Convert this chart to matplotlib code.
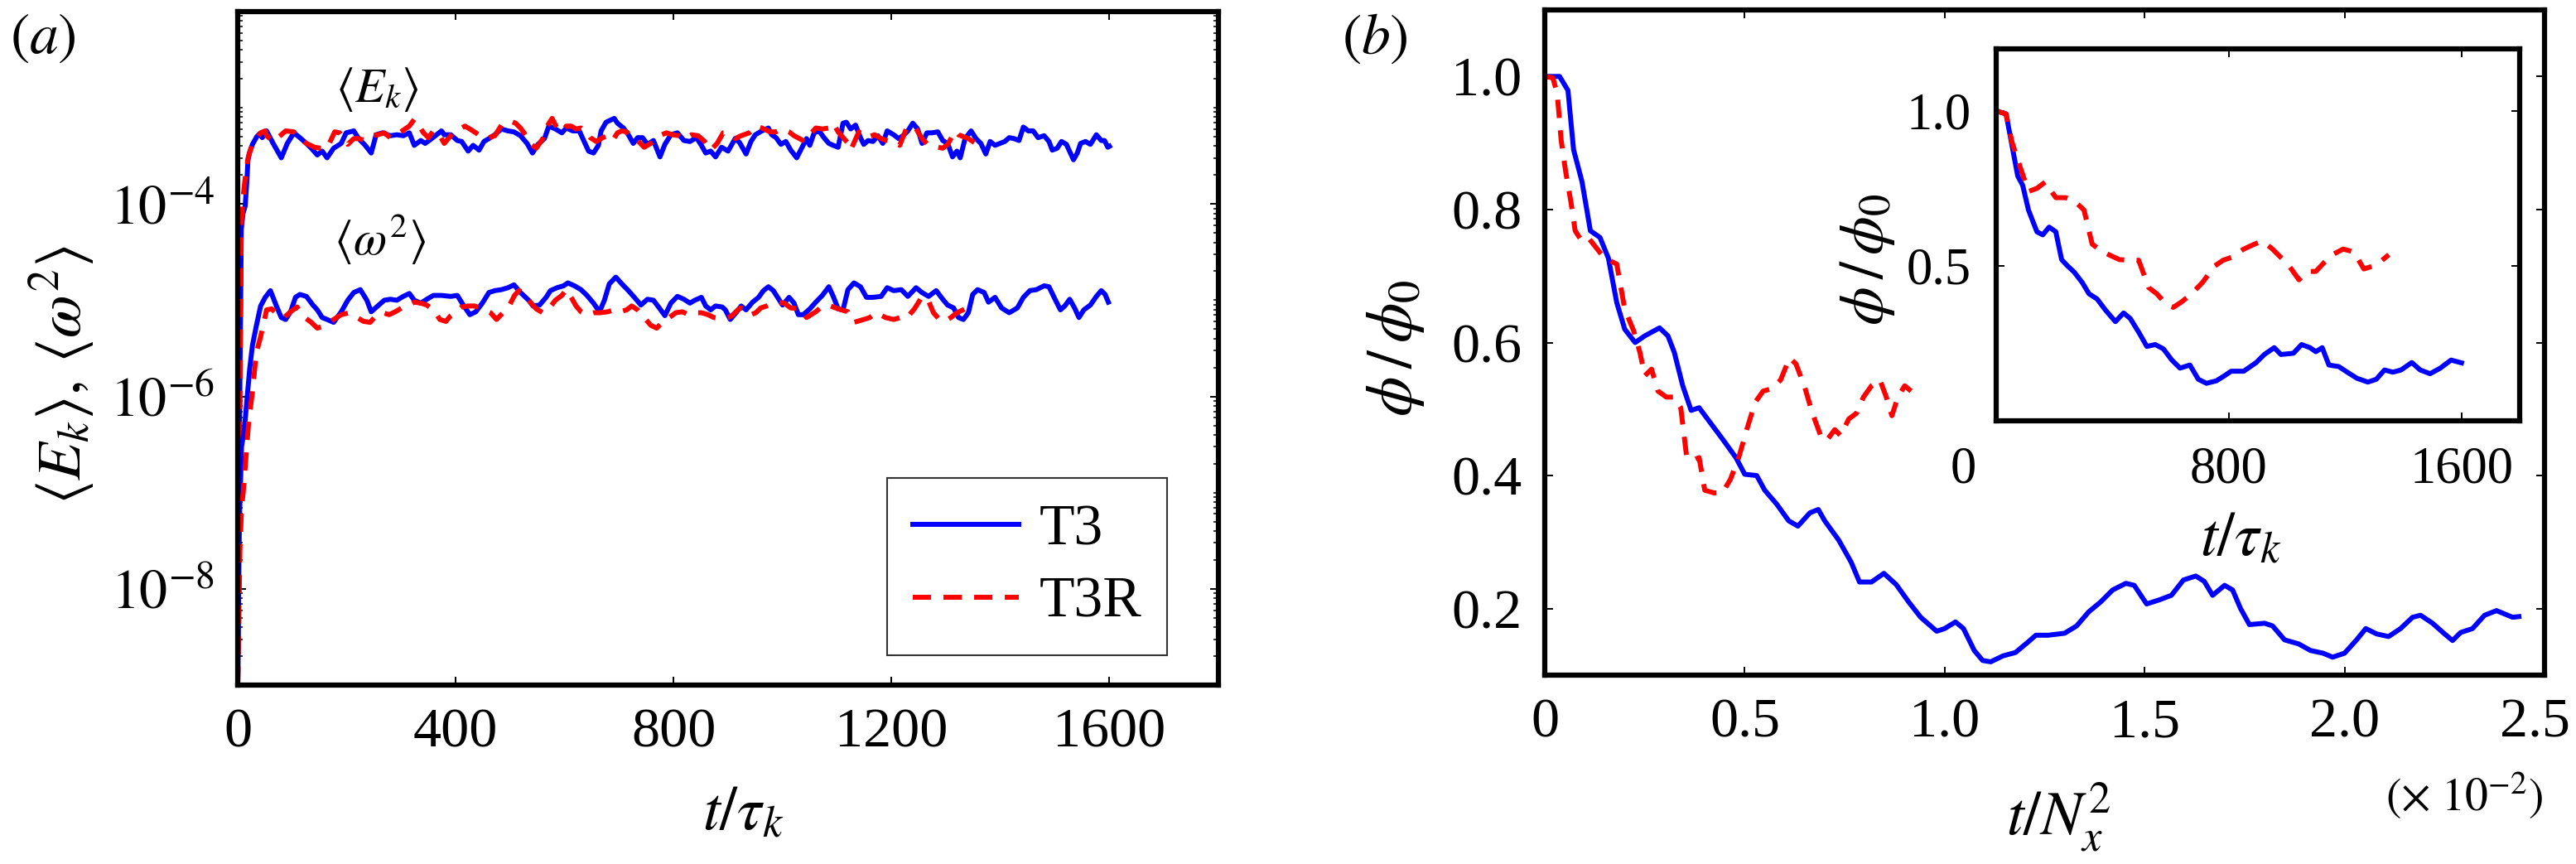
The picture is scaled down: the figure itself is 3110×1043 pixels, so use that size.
import numpy as np
import matplotlib
matplotlib.use("Agg")
import matplotlib.pyplot as plt
from matplotlib.transforms import ScaledTranslation

plt.rcParams['font.family'] = ['Liberation Serif', 'DejaVu Serif']
plt.rcParams['mathtext.fontset'] = 'stix'

# ---------------- data: panel (a), log10 of values vs t/tau_k ----------------
ek_t3_t = [0, 3, 6.6, 9.6, 13.7, 17, 18.8, 22, 27, 35, 40, 45, 53, 65, 80, 91, 103, 114, 126, 135, 146, 155, 164, 176,
           190, 199, 213, 222, 234, 245, 254, 266, 280, 292, 304, 315, 324, 336, 344, 356, 365, 374, 379, 391, 403, 411,
           423, 432, 443, 452, 461, 472, 484, 496, 507, 519, 531, 541, 551, 563, 571, 583, 595, 603, 615, 627, 635, 644,
           653, 662, 667, 676, 691, 697, 708, 717, 726, 734, 743, 752, 763, 775, 784, 795, 807, 819, 830, 842, 851, 859,
           868, 877, 888, 900, 913, 921, 933, 942, 950, 962, 974, 980, 988, 997, 1006, 1015, 1026, 1035, 1044, 1050,
           1058, 1067, 1076, 1085, 1093, 1102, 1111, 1117, 1125, 1134, 1143, 1149, 1157, 1166, 1175, 1184, 1192, 1204,
           1213, 1221, 1230, 1239, 1248, 1256, 1265, 1274, 1285, 1294, 1303, 1312, 1320, 1326, 1335, 1346, 1355, 1364,
           1373, 1381, 1390, 1399, 1408, 1416, 1425, 1434, 1442, 1451, 1460, 1469, 1480, 1489, 1495, 1504, 1512, 1521,
           1530, 1534, 1541, 1547, 1556, 1565, 1576, 1585, 1591, 1597, 1600]
ek_t3_log10 = [-9.0, -6.5, -4.26, -4.1, -4.02, -3.74, -3.54, -3.46, -3.38, -3.3, -3.27, -3.31, -3.24, -3.37, -3.52, -3.37,
               -3.26, -3.31, -3.37, -3.42, -3.49, -3.45, -3.52, -3.42, -3.37, -3.26, -3.24, -3.32, -3.39, -3.47, -3.28,
               -3.26, -3.29, -3.28, -3.29, -3.26, -3.39, -3.34, -3.37, -3.32, -3.28, -3.24, -3.28, -3.28, -3.34, -3.35,
               -3.45, -3.39, -3.44, -3.35, -3.32, -3.28, -3.22, -3.24, -3.25, -3.29, -3.37, -3.47, -3.38, -3.32, -3.19,
               -3.22, -3.26, -3.21, -3.24, -3.24, -3.34, -3.45, -3.47, -3.39, -3.24, -3.15, -3.11, -3.16, -3.21, -3.28,
               -3.37, -3.31, -3.31, -3.38, -3.34, -3.51, -3.38, -3.28, -3.26, -3.34, -3.35, -3.31, -3.39, -3.47, -3.45,
               -3.51, -3.41, -3.45, -3.32, -3.36, -3.48, -3.35, -3.28, -3.24, -3.21, -3.28, -3.31, -3.38, -3.35, -3.44,
               -3.52, -3.42, -3.32, -3.39, -3.26, -3.24, -3.31, -3.37, -3.39, -3.41, -3.16, -3.15, -3.22, -3.18, -3.31,
               -3.38, -3.34, -3.35, -3.29, -3.37, -3.24, -3.28, -3.32, -3.29, -3.24, -3.16, -3.22, -3.37, -3.26, -3.26,
               -3.25, -3.34, -3.37, -3.51, -3.45, -3.52, -3.32, -3.24, -3.32, -3.37, -3.48, -3.35, -3.39, -3.37, -3.35,
               -3.31, -3.32, -3.34, -3.2, -3.24, -3.24, -3.31, -3.29, -3.35, -3.44, -3.42, -3.35, -3.38, -3.49, -3.54,
               -3.47, -3.37, -3.35, -3.38, -3.28, -3.34, -3.34, -3.41, -3.4]

ek_t3r_t = [0, 3, 6.4, 9.6, 14.7, 19.8, 27, 35, 42, 50, 53, 65, 80, 88, 103, 114, 126, 141, 152, 164, 178, 187, 202, 213,
            222, 234, 245, 257, 269, 280, 292, 307, 315, 324, 333, 341, 350, 359, 368, 379, 388, 397, 408, 417, 426, 437,
            449, 461, 472, 484, 496, 501, 510, 519, 528, 539, 548, 560, 568, 577, 586, 595, 603, 612, 621, 630, 638, 647,
            658, 670, 679, 688, 697, 705, 714, 723, 734, 746, 758, 769, 778, 787, 798, 810, 822, 833, 845, 857, 868, 880,
            891, 901, 913, 924, 939, 951, 962, 977, 988, 1000, 1012, 1021, 1041, 1050, 1061, 1073, 1085, 1093, 1102,
            1119, 1125, 1140, 1154, 1169, 1181, 1195, 1204, 1215, 1227, 1242, 1256, 1268, 1294, 1303, 1317, 1323, 1341,
            1352]
ek_t3r_log10 = [-9.0, -6.8, -4.22, -3.94, -3.68, -3.5, -3.38, -3.32, -3.26, -3.24, -3.29, -3.35, -3.28, -3.24, -3.25,
                -3.32, -3.37, -3.41, -3.42, -3.42, -3.25, -3.26, -3.38, -3.32, -3.32, -3.34, -3.29, -3.28, -3.26, -3.31,
                -3.28, -3.22, -3.19, -3.12, -3.19, -3.26, -3.31, -3.24, -3.26, -3.37, -3.31, -3.25, -3.22, -3.19, -3.22,
                -3.26, -3.31, -3.31, -3.29, -3.18, -3.15, -3.14, -3.16, -3.21, -3.28, -3.38, -3.42, -3.32, -3.19, -3.11,
                -3.21, -3.25, -3.19, -3.19, -3.22, -3.21, -3.24, -3.31, -3.35, -3.31, -3.29, -3.34, -3.26, -3.24, -3.25,
                -3.31, -3.34, -3.41, -3.37, -3.32, -3.28, -3.26, -3.28, -3.29, -3.32, -3.28, -3.29, -3.35, -3.44, -3.37,
                -3.26, -3.26, -3.32, -3.29, -3.26, -3.19, -3.21, -3.25, -3.25, -3.22, -3.25, -3.29, -3.35, -3.28, -3.21,
                -3.22, -3.21, -3.16, -3.25, -3.36, -3.44, -3.25, -3.31, -3.28, -3.32, -3.35, -3.35, -3.39, -3.22, -3.19,
                -3.32, -3.39, -3.42, -3.38, -3.24, -3.28, -3.32, -3.36]

w2_t3_t = [0, 3, 7, 12, 17, 22, 27, 34, 42, 50.5, 60, 71, 80, 88, 97, 106, 114, 126, 138, 146, 155, 164, 176, 190, 202,
           213, 225, 237, 245, 257, 269, 280, 292, 304, 315, 324, 336, 347, 359, 374, 391, 403, 414, 426, 437, 449, 461,
           472, 484, 496, 507, 519, 534, 542, 554, 566, 574, 586, 598, 606, 618, 630, 641, 653, 664, 673, 682, 694, 705,
           717, 728, 740, 752, 763, 775, 784, 795, 807, 819, 830, 839, 851, 859, 868, 877, 889, 895, 904, 916, 924, 933,
           945, 956, 965, 974, 983, 991, 1000, 1012, 1021, 1029, 1038, 1050, 1061, 1073, 1085, 1093, 1102, 1111, 1120,
           1131, 1143, 1154, 1166, 1181, 1192, 1204, 1218, 1230, 1245, 1256, 1268, 1282, 1294, 1303, 1314, 1323, 1332,
           1341, 1349, 1358, 1370, 1378, 1390, 1402, 1416, 1431, 1442, 1454, 1466, 1480, 1489, 1501, 1510, 1518, 1527,
           1536, 1544, 1553, 1565, 1576, 1585, 1592, 1598]
w2_t3_log10 = [-9.0, -7.3, -6.52, -6.35, -6.03, -5.71, -5.47, -5.27, -5.06, -4.97, -4.9, -5.06, -5.18, -5.2, -5.12,
               -4.97, -4.94, -4.96, -5.05, -5.1, -5.18, -5.2, -5.23, -5.12, -5.0, -4.92, -4.89, -5.0, -5.12, -5.06, -5.0,
               -4.99, -5.0, -4.96, -4.93, -5.0, -5.03, -4.99, -4.95, -4.95, -4.96, -4.95, -5.05, -5.15, -5.12, -5.03,
               -4.92, -4.9, -4.89, -4.87, -4.84, -4.92, -5.0, -5.06, -5.05, -4.97, -4.9, -4.87, -4.85, -4.82, -4.85,
               -4.89, -4.95, -5.03, -5.12, -5.0, -4.83, -4.76, -4.83, -4.9, -4.97, -5.05, -4.99, -5.0, -5.09, -5.16,
               -5.03, -4.96, -4.99, -5.03, -5.0, -4.97, -5.06, -5.1, -5.06, -5.07, -5.1, -5.2, -5.12, -5.06, -5.1,
               -5.02, -4.97, -4.9, -4.86, -4.9, -4.97, -5.05, -4.97, -5.03, -5.15, -5.15, -5.09, -5.02, -4.95, -4.86,
               -4.96, -5.09, -5.1, -4.89, -4.82, -4.86, -4.97, -4.97, -4.96, -4.87, -4.9, -4.89, -4.96, -4.87, -4.92,
               -4.96, -4.9, -4.99, -5.05, -5.08, -5.18, -5.2, -5.13, -4.94, -4.89, -4.92, -5.02, -4.97, -5.08, -5.13,
               -5.08, -4.97, -4.9, -4.89, -4.85, -4.86, -5.0, -5.1, -5.06, -4.99, -5.08, -5.18, -5.1, -5.05, -4.96,
               -4.9, -4.94, -5.02]

w2_t3r_t = [0, 4, 7, 10, 15, 20, 27, 34, 42, 53, 62, 74, 85, 97, 109, 123, 135, 146, 161, 176, 190, 205, 219, 231, 243,
            254, 266, 278, 289, 301, 312, 324, 336, 347, 359, 371, 382, 391, 400, 411, 423, 435, 449, 464, 475, 487, 499,
            508, 516, 525, 537, 548, 560, 571, 583, 595, 603, 612, 621, 630, 641, 653, 665, 679, 691, 702, 714, 723, 734,
            746, 758, 769, 781, 792, 804, 816, 828, 839, 851, 863, 874, 889, 900, 907, 922, 933, 942, 951, 960, 971, 989,
            1003, 1015, 1032, 1044, 1061, 1073, 1088, 1102, 1120, 1131, 1149, 1160, 1172, 1189, 1204, 1216, 1227, 1242,
            1253, 1265, 1277, 1288, 1297, 1309, 1320, 1335]
w2_t3r_log10 = [-9.0, -7.6, -7.16, -7.0, -6.64, -6.27, -5.95, -5.55, -5.38, -5.1, -5.09, -5.15, -5.18, -5.12, -5.07,
                -5.18, -5.23, -5.29, -5.26, -5.2, -5.15, -5.13, -5.18, -5.22, -5.23, -5.16, -5.13, -5.15, -5.12, -5.08,
                -5.06, -5.02, -5.03, -5.05, -5.1, -5.2, -5.22, -5.16, -5.12, -5.07, -5.06, -5.06, -5.09, -5.13, -5.2,
                -5.13, -5.05, -4.95, -4.9, -4.92, -5.02, -5.09, -5.13, -5.09, -5.0, -4.95, -4.89, -4.97, -5.06, -5.12,
                -5.15, -5.13, -5.13, -5.12, -5.1, -5.12, -5.1, -5.06, -5.1, -5.18, -5.26, -5.29, -5.22, -5.18, -5.13,
                -5.12, -5.15, -5.13, -5.13, -5.15, -5.18, -5.19, -5.18, -5.16, -5.08, -5.09, -5.15, -5.13, -5.08, -5.06,
                -5.02, -5.03, -5.08, -5.09, -5.18, -5.12, -5.06, -5.06, -5.09, -5.12, -5.23, -5.2, -5.18, -5.13, -5.18,
                -5.2, -5.18, -5.19, -5.09, -4.99, -4.97, -5.13, -5.2, -5.22, -5.18, -5.13, -5.09]

# ---------------- data: panel (b), phi/phi0 vs t/Nx^2 (x 1e-2) ----------------
phi_t3_x = [0, 0.037, 0.058, 0.072, 0.093, 0.099, 0.107, 0.114, 0.138, 0.159, 0.18, 0.2, 0.226, 0.25, 0.287, 0.308,
            0.324, 0.345, 0.366, 0.386, 0.417, 0.448, 0.478, 0.5, 0.53, 0.55, 0.58, 0.61, 0.633, 0.663, 0.684, 0.70,
            0.735, 0.766, 0.787, 0.817, 0.848, 0.879, 0.91, 0.94, 0.98, 1.0, 1.027, 1.047, 1.074, 1.095, 1.115, 1.146,
            1.177, 1.207, 1.228, 1.259, 1.3, 1.33, 1.36, 1.39, 1.42, 1.453, 1.474, 1.505, 1.536, 1.567, 1.597, 1.628,
            1.649, 1.67, 1.7, 1.72, 1.74, 1.762, 1.8, 1.82, 1.85, 1.885, 1.915, 1.946, 1.97, 2.0, 2.03, 2.053, 2.08,
            2.11, 2.14, 2.17, 2.19, 2.22, 2.25, 2.27, 2.29, 2.32, 2.35, 2.38, 2.42, 2.436]
phi_t3_y = [1.0, 1.0, 0.979, 0.89, 0.842, 0.821, 0.793, 0.768, 0.758, 0.727, 0.66, 0.62, 0.6, 0.61, 0.622, 0.61, 0.585,
            0.535, 0.498, 0.502, 0.477, 0.452, 0.427, 0.402, 0.40, 0.378, 0.357, 0.332, 0.324, 0.344, 0.349, 0.332,
            0.303, 0.27, 0.24, 0.24, 0.253, 0.236, 0.21, 0.187, 0.166, 0.17, 0.18, 0.17, 0.137, 0.122, 0.12, 0.129,
            0.134, 0.149, 0.16, 0.16, 0.163, 0.174, 0.195, 0.21, 0.228, 0.238, 0.235, 0.207, 0.213, 0.22, 0.243, 0.249,
            0.241, 0.22, 0.235, 0.228, 0.2, 0.176, 0.178, 0.174, 0.153, 0.147, 0.137, 0.133, 0.127, 0.133, 0.153, 0.17,
            0.162, 0.158, 0.17, 0.187, 0.19, 0.178, 0.162, 0.152, 0.164, 0.17, 0.19, 0.197, 0.187, 0.188]

phi_t3r_x = [0, 0.02, 0.031, 0.041, 0.052, 0.066, 0.076, 0.09, 0.107, 0.149, 0.18, 0.2, 0.222, 0.238, 0.25, 0.267,
             0.283, 0.304, 0.324, 0.34, 0.355, 0.37, 0.386, 0.4, 0.423, 0.444, 0.464, 0.485, 0.505, 0.526, 0.546, 0.57,
             0.59, 0.612, 0.628, 0.649, 0.669, 0.69, 0.704, 0.725, 0.74, 0.76, 0.78, 0.797, 0.817, 0.838, 0.854, 0.868,
             0.883, 0.9, 0.916]
phi_t3r_y = [1.0, 0.998, 0.975, 0.904, 0.858, 0.809, 0.768, 0.755, 0.759, 0.727, 0.718, 0.65, 0.618, 0.585, 0.55, 0.56,
             0.527, 0.518, 0.518, 0.502, 0.427, 0.423, 0.427, 0.378, 0.374, 0.374, 0.394, 0.427, 0.469, 0.51, 0.527,
             0.531, 0.544, 0.577, 0.568, 0.535, 0.494, 0.46, 0.452, 0.469, 0.46, 0.485, 0.494, 0.518, 0.535, 0.544,
             0.518, 0.49, 0.518, 0.535, 0.527]

# inset: phi/phi0 vs t/tau_k
inset_t3_t = [0, 34, 54, 74, 91, 111, 140, 160, 182, 205, 225, 245, 268, 296, 319, 347, 376, 410, 438, 461, 490, 518,
              547, 575, 604, 632, 666, 695, 723, 757, 786, 808, 851, 894, 922, 956, 979, 1022, 1050, 1079, 1099, 1121,
              1144, 1178, 1207, 1241, 1278, 1307, 1335, 1364, 1392, 1429, 1458, 1492, 1527, 1564, 1600]
inset_t3_y = [1.0, 0.99, 0.89, 0.79, 0.76, 0.68, 0.61, 0.6, 0.625, 0.61, 0.52, 0.5, 0.48, 0.446, 0.41, 0.393, 0.357,
              0.32, 0.348, 0.33, 0.286, 0.24, 0.246, 0.232, 0.196, 0.17, 0.18, 0.134, 0.121, 0.129, 0.146, 0.16, 0.16,
              0.188, 0.214, 0.236, 0.214, 0.218, 0.246, 0.236, 0.223, 0.236, 0.18, 0.175, 0.157, 0.137, 0.125, 0.134,
              0.164, 0.157, 0.164, 0.188, 0.164, 0.152, 0.17, 0.196, 0.187]
inset_t3r_t = [0, 34, 54, 82, 111, 140, 168, 205, 239, 268, 302, 330, 359, 387, 424, 461, 490, 524, 552, 586, 609, 638,
               672, 709, 752, 780, 808, 851, 888, 916, 950, 979, 1007, 1041, 1070, 1099, 1127, 1156, 1193, 1230, 1264,
               1298, 1327, 1350]
inset_t3r_y = [1.0, 0.99, 0.9, 0.82, 0.74, 0.75, 0.77, 0.72, 0.72, 0.71, 0.68, 0.57, 0.55, 0.536, 0.52, 0.518, 0.518,
               0.43, 0.41, 0.375, 0.366, 0.384, 0.41, 0.446, 0.5, 0.518, 0.527, 0.554, 0.57, 0.58, 0.554, 0.527, 0.5,
               0.455, 0.482, 0.482, 0.51, 0.536, 0.554, 0.545, 0.49, 0.5, 0.518, 0.536]

series_labels = ["T3", "T3R"]
a_xticks = [0, 400, 800, 1200, 1600]
a_yticks = [1e-8, 1e-6, 1e-4]
a_yticklabels = [r"$10^{-8}$", r"$10^{-6}$", r"$10^{-4}$"]
b_xticks = [0, 0.5, 1.0, 1.5, 2.0, 2.5]
b_xticklabels = ["0", "0.5", "1.0", "1.5", "2.0", "2.5"]
b_yticks = [0.2, 0.4, 0.6, 0.8, 1.0]
b_yticklabels = ["0.2", "0.4", "0.6", "0.8", "1.0"]
inset_xticks = [0, 800, 1600]
inset_yticks = [0.5, 1.0]
inset_yticklabels = ["0.5", "1.0"]

# ---------------- figure ----------------
W, H = 3110, 1043
DPI = 100
fig = plt.figure(figsize=(W / DPI, H / DPI), dpi=DPI)


def frac_rect(l, r, t, b):
    return [l / W, 1 - b / H, (r - l) / W, (b - t) / H]


BLUE = (0, 0, 1)
RED = (1, 0, 0)
LW = 4.3
DASH = (3.7, 2.5)
TICKFS = 49
SPW = 4.5


def style_axes(ax, pad):
    for s in ax.spines.values():
        s.set_linewidth(SPW)
    ax.tick_params(which='both', direction='in', top=True, right=True, labelsize=TICKFS, pad=pad)
    ax.tick_params(which='major', length=7, width=1.4)
    ax.tick_params(which='minor', length=4, width=1.1)


# panel (a)
axa = fig.add_axes(frac_rect(287, 1471, 14, 827))
axa.plot(ek_t3_t, 10 ** np.array(ek_t3_log10), color=BLUE, lw=LW, label=series_labels[0])
axa.plot(ek_t3r_t, 10 ** np.array(ek_t3r_log10), color=RED, lw=LW, dashes=DASH, label=series_labels[1])
axa.plot(w2_t3_t, 10 ** np.array(w2_t3_log10), color=BLUE, lw=LW)
axa.plot(w2_t3r_t, 10 ** np.array(w2_t3r_log10), color=RED, lw=LW, dashes=DASH)
axa.set_yscale('log')
axa.set_xlim(0, 1800)
axa.set_ylim(1e-9, 1e-2)
axa.set_xticks(a_xticks)
axa.set_xticklabels([str(v) for v in a_xticks])
axa.set_yticks(a_yticks)
axa.set_yticklabels(a_yticklabels)
minor = [k * 10.0 ** n for n in range(-9, -2) for k in range(1, 10) if not (k == 1 and n in (-8, -6, -4))]
axa.set_yticks(minor, minor=True)
axa.set_yticklabels([], minor=True)
axa.xaxis.set_minor_locator(matplotlib.ticker.NullLocator())
style_axes(axa, 20)
leg = axa.legend(loc='lower right', bbox_to_anchor=(0.948, 0.044), frameon=True, fancybox=False,
                 fontsize=50, handlelength=1.85, handletextpad=0.35, labelspacing=0.35, borderpad=0.45,
                 borderaxespad=0)
leg.get_frame().set_edgecolor('black')
leg.get_frame().set_linewidth(1.5)

fig.text(52 / W, 1 - 47 / H, r"$(a)$", fontsize=50, ha='center', va='center')
fig.text(75 / W, 1 - 453 / H, r"$\langle E_k\rangle,\, \langle \omega^2\rangle$", fontsize=54,
         rotation=90, ha='center', va='center')
fig.text(897 / W, 1 - 984 / H, r"$t/\tau_k$", fontsize=54, ha='center', va='center')
fig.text(455 / W, 1 - 108 / H, r"$\langle E_k\rangle$", fontsize=42, ha='center', va='center')
fig.text(459 / W, 1 - 290 / H, r"$\langle \omega^2\rangle$", fontsize=42, ha='center', va='center')

# panel (b)
axb = fig.add_axes(frac_rect(1865, 3072, 12, 815))
axb.plot(phi_t3_x, phi_t3_y, color=BLUE, lw=LW)
axb.plot(phi_t3r_x, phi_t3r_y, color=RED, lw=LW, dashes=DASH)
axb.set_xlim(0, 2.5)
axb.set_ylim(0.1, 1.1)
axb.set_xticks(b_xticks)
axb.set_xticklabels(b_xticklabels)
axb.set_yticks(b_yticks)
axb.set_yticklabels(b_yticklabels)
style_axes(axb, 20)
lab_last = axb.get_xticklabels()[-1]
lab_last.set_transform(lab_last.get_transform() + ScaledTranslation(-0.12, 0, fig.dpi_scale_trans))

fig.text(1660 / W, 1 - 47 / H, r"$(b)$", fontsize=50, ha='center', va='center')
fig.text(1685 / W, 1 - 420 / H, r"$\phi\,/\,\phi_0$", fontsize=56, rotation=90, ha='center', va='center')
fig.text(2485 / W, 1 - 987 / H, r"$t/N_x^2$", fontsize=54, ha='center', va='center')
fig.text(2975 / W, 1 - 960 / H, r"$(\times\ 10^{-2})$", fontsize=40, ha='center', va='center')

# inset
axi = fig.add_axes(frac_rect(2410, 3042, 59, 508))
axi.plot(inset_t3_t, inset_t3_y, color=BLUE, lw=LW)
axi.plot(inset_t3r_t, inset_t3r_y, color=RED, lw=LW, dashes=DASH)
axi.set_xlim(0, 1800)
axi.set_ylim(0, 1.2)
axi.set_xticks(inset_xticks)
axi.set_xticklabels([str(v) for v in inset_xticks])
axi.set_yticks(inset_yticks)
axi.set_yticklabels(inset_yticklabels)
style_axes(axi, 22)
axi.tick_params(labelsize=45)
lab0 = axi.get_xticklabels()[0]
lab0.set_transform(lab0.get_transform() + ScaledTranslation(-0.4, 0, fig.dpi_scale_trans))
fig.text(2255 / W, 1 - 313 / H, r"$\phi\,/\,\phi_0$", fontsize=54, rotation=90, ha='center', va='center')
fig.text(2705 / W, 1 - 653 / H, r"$t/\tau_k$", fontsize=54, ha='center', va='center')

fig.savefig("out.png", dpi=DPI)
